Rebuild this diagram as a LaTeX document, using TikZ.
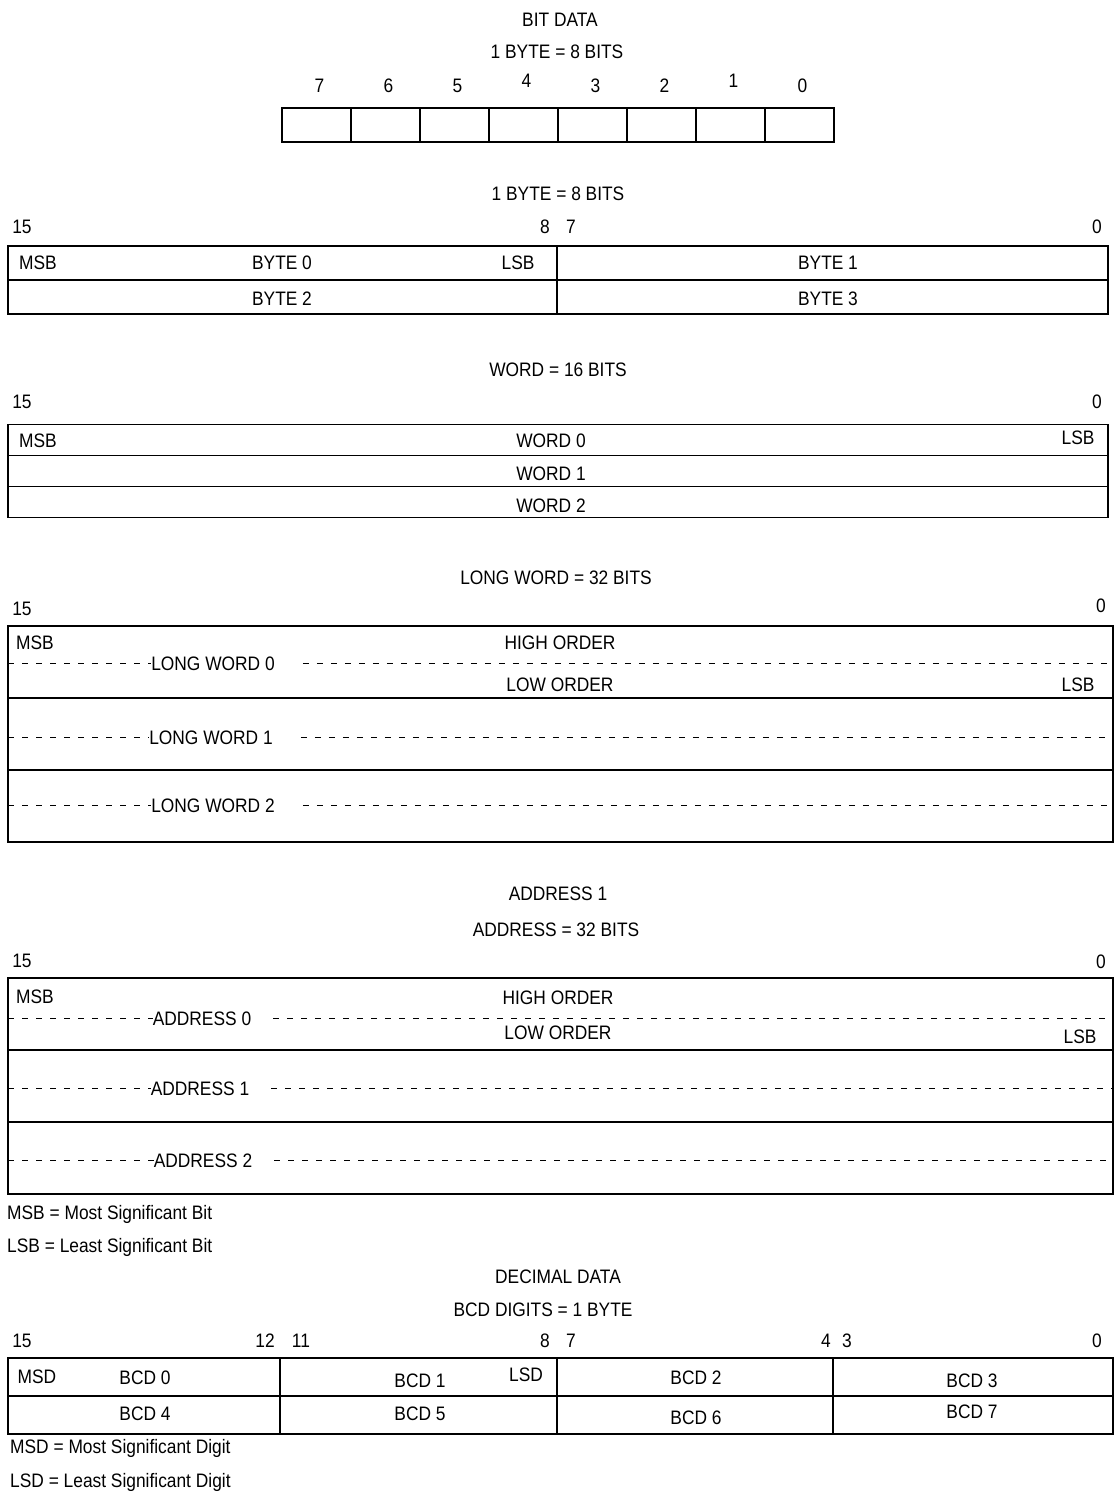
\documentclass[tikz,border=0pt]{standalone}
\usepackage{fontspec}
\setmainfont{Liberation Sans}[FakeStretch=0.89]
\begin{document}
\begin{tikzpicture}[x=1pt, y=-1pt]
  \tikzstyle{cell}=[draw, line width=1.1pt, inner sep=0pt, outer sep=0pt]
  \tikzstyle{lbl}=[inner sep=0pt, text height=14pt, text depth=0pt, font=\fontsize{19.5}{23}\selectfont]
  \tikzstyle{note}=[lbl, anchor=west]
  \tikzstyle{dashline}=[line width=0.8pt, dash pattern=on 6pt off 8pt]

  \useasboundingbox (0,0) rectangle (1115,1499);

  % Bit data: one byte, eight cells of 69 px from x = 282.
  \node[lbl] (bittitle) at (560,19) {BIT DATA};
  \node[lbl] (bitsize) at (557,51) {1 BYTE = 8 BITS};
  \foreach \i/\n/\dy in {0/7/0, 1/6/0, 2/5/0, 3/4/-5, 4/3/0, 5/2/0, 6/1/-5, 7/0/0} {
    \node[cell, minimum width=69pt, minimum height=34pt] (bit\n) at (316.5+69*\i,125) {};
    \node[lbl] (bitno\n) at (319.5+69*\i,85+\dy) {\n};
  }

  % Bytes: two per row, bits 15..8 and 7..0
  \node[lbl] (bytesize) at (558,193) {1 BYTE = 8 BITS};
  \node[lbl] (byteno15) at (22,226) {15};
  \node[lbl] (byteno8) at (545,226) {8};
  \node[lbl] (byteno7) at (571,226) {7};
  \node[lbl] (byteno0) at (1097,226) {0};
  \node[cell, minimum width=549pt, minimum height=34pt] (byte0) at (282.5,263) {};
  \node[cell, minimum width=551pt, minimum height=34pt] (byte1) at (832.5,263) {};
  \node[cell, minimum width=549pt, minimum height=34pt] (byte2) at (282.5,297) {};
  \node[cell, minimum width=551pt, minimum height=34pt] (byte3) at (832.5,297) {};
  \node[lbl] (bytemsb) at (38,262) {MSB};
  \node[lbl] (byte0t) at (282,262) {BYTE 0};
  \node[lbl] (bytelsb) at (518,262) {LSB};
  \node[lbl] (byte1t) at (828,262) {BYTE 1};
  \node[lbl] (byte2t) at (282,298) {BYTE 2};
  \node[lbl] (byte3t) at (828,298) {BYTE 3};

  % Words: one per row
  \node[lbl] (wordsize) at (558,369) {WORD = 16 BITS};
  \node[lbl] (wordno15) at (22,401) {15};
  \node[lbl] (wordno0) at (1097,401) {0};
  \foreach \r/\y in {0/440, 1/471, 2/502}
    \node[cell, minimum width=1100pt, minimum height=31pt] (word\r) at (558,\y) {};
  \node[lbl] (wordmsb) at (38,440) {MSB};
  \node[lbl] (word0t) at (551,440) {WORD 0};
  \node[lbl] (wordlsb) at (1078,437) {LSB};
  \node[lbl] (word1t) at (551,473) {WORD 1};
  \node[lbl] (word2t) at (551,505) {WORD 2};

  % Long words: each row split into high and low order by a dashed line
  \node[lbl] (longsize) at (556,577) {LONG WORD = 32 BITS};
  \node[lbl] (longno15) at (22,608) {15};
  \node[lbl] (longno0) at (1101,605) {0};
  \foreach \r/\y in {0/662, 1/734, 2/806}
    \node[cell, minimum width=1105pt, minimum height=72pt] (long\r) at (560.5,\y) {};
  \node[lbl] (longmsb) at (35,642) {MSB};
  \node[lbl] (longhigh) at (560,642) {HIGH ORDER};
  \node[lbl] (longlow) at (560,684) {LOW ORDER};
  \node[lbl] (longlsb) at (1078,684) {LSB};
  \node[lbl] (long0t) at (213,663) {LONG WORD 0};
  \node[lbl] (long1t) at (211,737) {LONG WORD 1};
  \node[lbl] (long2t) at (213,805) {LONG WORD 2};
  \foreach \r in {0,1,2} {
    \draw[dashline] (long\r.west |- long\r t.west) -- (long\r t.west);
    \draw[dashline] ([xshift=28pt]long\r t.east) -- (long\r t.east -| long\r.east);
  }

  % Addresses, laid out like the long words
  \node[lbl] (addrtitle) at (558,893) {ADDRESS 1};
  \node[lbl] (addrsize) at (556,929) {ADDRESS = 32 BITS};
  \node[lbl] (addrno15) at (22,960) {15};
  \node[lbl] (addrno0) at (1101,961) {0};
  \foreach \r/\y in {0/1014, 1/1086, 2/1158}
    \node[cell, minimum width=1105pt, minimum height=72pt] (addr\r) at (560.5,\y) {};
  \node[lbl] (addrmsb) at (35,996) {MSB};
  \node[lbl] (addrhigh) at (558,997) {HIGH ORDER};
  \node[lbl] (addrlow) at (558,1032) {LOW ORDER};
  \node[lbl] (addrlsb) at (1080,1036) {LSB};
  \node[lbl] (addr0t) at (202,1018) {ADDRESS 0};
  \node[lbl] (addr1t) at (200,1088) {ADDRESS 1};
  \node[lbl] (addr2t) at (203,1160) {ADDRESS 2};
  \foreach \r in {0,1,2} {
    \draw[dashline] (addr\r.west |- addr\r t.west) -- (addr\r t.west);
    \draw[dashline] ([xshift=22pt]addr\r t.east) -- (addr\r t.east -| addr\r.east);
  }

  \node[note] (msbnote) at (7,1212) {MSB = Most Significant Bit};
  \node[note] (lsbnote) at (7,1245) {LSB = Least Significant Bit};

  % Decimal data: four BCD digits per row
  \node[lbl] (bcdtitle) at (558,1276) {DECIMAL DATA};
  \node[lbl] (bcdsize) at (543,1309) {BCD DIGITS = 1 BYTE};
  \foreach \n/\x in {15/22, 12/265, 11/301, 8/545, 7/571, 4/826, 3/847, 0/1097}
    \node[lbl] (bcdno\n) at (\x,1340) {\n};
  \node[cell, minimum width=272pt, minimum height=38pt] (bcd0) at (144,1377) {};
  \node[cell, minimum width=277pt, minimum height=38pt] (bcd1) at (418.5,1377) {};
  \node[cell, minimum width=276pt, minimum height=38pt] (bcd2) at (695,1377) {};
  \node[cell, minimum width=280pt, minimum height=38pt] (bcd3) at (973,1377) {};
  \node[cell, minimum width=272pt, minimum height=38pt] (bcd4) at (144,1415) {};
  \node[cell, minimum width=277pt, minimum height=38pt] (bcd5) at (418.5,1415) {};
  \node[cell, minimum width=276pt, minimum height=38pt] (bcd6) at (695,1415) {};
  \node[cell, minimum width=280pt, minimum height=38pt] (bcd7) at (973,1415) {};
  \node[lbl] (bcdmsd) at (37,1376) {MSD};
  \node[lbl] (bcd0t) at (145,1377) {BCD 0};
  \node[lbl] (bcd1t) at (420,1380) {BCD 1};
  \node[lbl] (bcdlsd) at (526,1374) {LSD};
  \node[lbl] (bcd2t) at (696,1377) {BCD 2};
  \node[lbl] (bcd3t) at (972,1380) {BCD 3};
  \node[lbl] (bcd4t) at (145,1413) {BCD 4};
  \node[lbl] (bcd5t) at (420,1413) {BCD 5};
  \node[lbl] (bcd6t) at (696,1417) {BCD 6};
  \node[lbl] (bcd7t) at (972,1411) {BCD 7};

  \node[note] (msdnote) at (10,1446) {MSD = Most Significant Digit};
  \node[note] (lsdnote) at (10,1480) {LSD = Least Significant Digit};
\end{tikzpicture}
\end{document}
